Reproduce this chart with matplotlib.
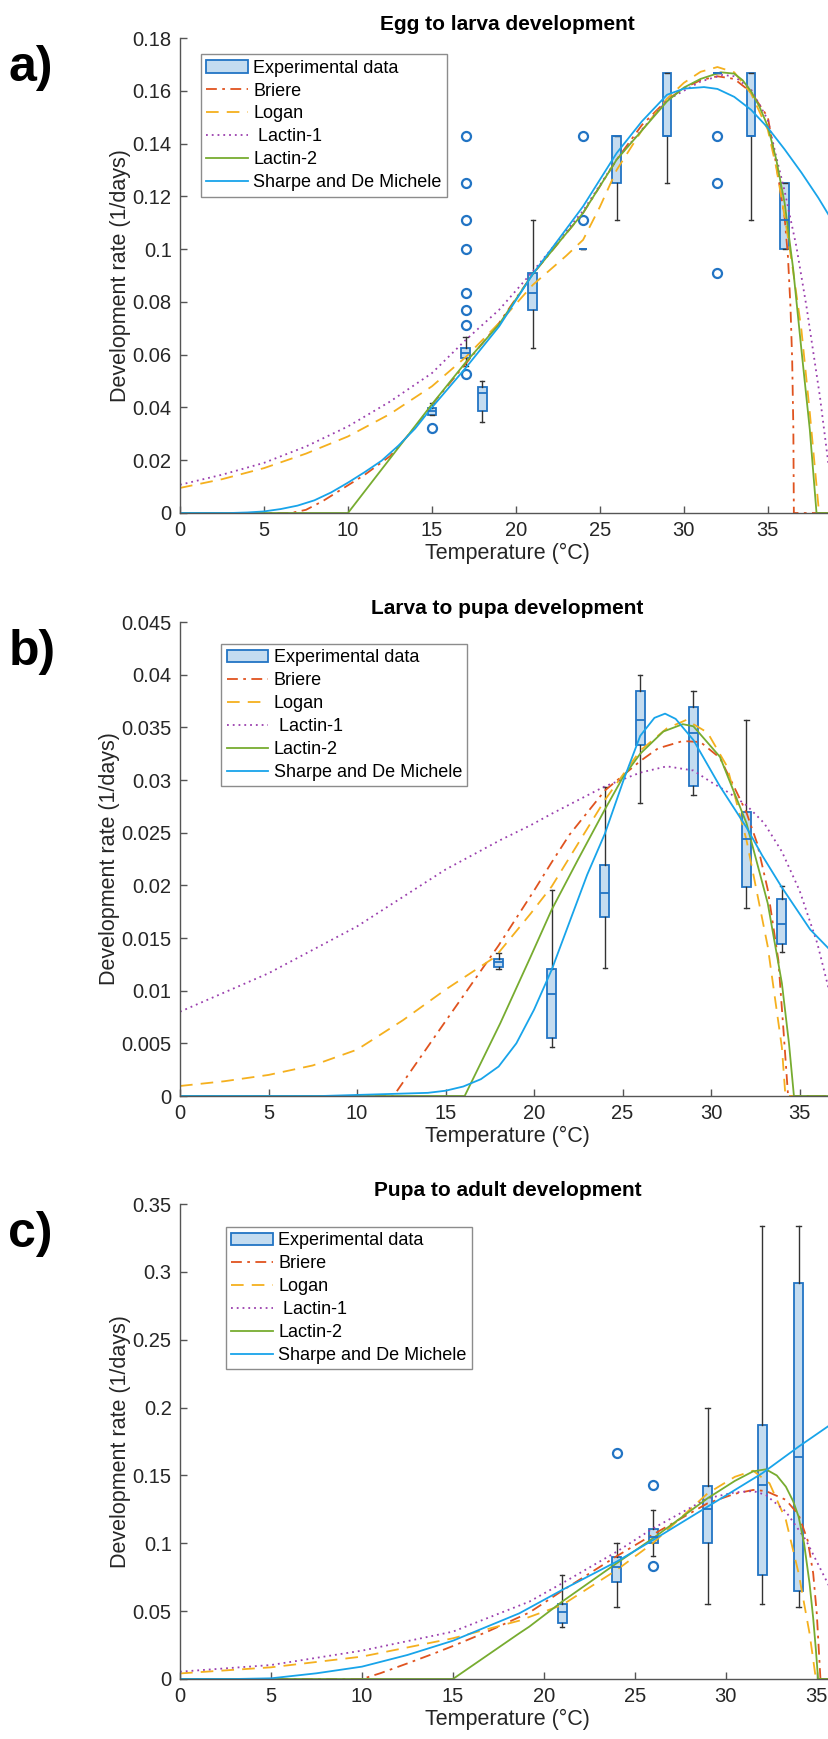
import matplotlib
matplotlib.use("Agg")
import matplotlib.pyplot as plt
from matplotlib.patches import Patch
from matplotlib.ticker import FormatStrFormatter

plt.rcParams['font.family'] = ['Liberation Sans', 'DejaVu Sans']

# ---------------- panel a: egg to larva ----------------
a_temp = [15, 17, 18, 21, 24, 26, 29, 32, 34, 36]
a_whislo = [0.037, 0.0556, 0.0345, 0.0625, 0.1, 0.1111, 0.125, 0.1667, 0.1111, 0.1]
a_q1 = [0.0372, 0.0588, 0.0385, 0.0769, 0.1, 0.125, 0.1429, 0.1667, 0.1429, 0.1]
a_med = [0.0385, 0.0606, 0.0455, 0.0833, 0.1, 0.1429, 0.1429, 0.1667, 0.1429, 0.1111]
a_q3 = [0.0398, 0.0625, 0.0476, 0.0909, 0.1, 0.1429, 0.1667, 0.1667, 0.1667, 0.125]
a_whishi = [0.0417, 0.0667, 0.05, 0.1111, 0.1, 0.1429, 0.1667, 0.1667, 0.1667, 0.125]
a_fliers = [[0.0323], [0.1429, 0.125, 0.1111, 0.1, 0.0833, 0.0769, 0.0714, 0.0526],
            [], [], [0.1429, 0.1111], [], [], [0.1429, 0.125, 0.0909], [], []]

a_briere_t = [0, 6.6, 7.5, 8.5, 10, 11, 12.5, 14, 15, 17, 19, 21, 24, 26, 27.5, 29, 30, 31,
              32, 33, 34, 35, 35.5, 36, 36.2, 36.35, 36.45, 36.52, 36.55, 39]
a_briere_r = [0, 0, 0.0012, 0.0045, 0.0105, 0.0145, 0.0215, 0.0325, 0.041, 0.0565, 0.072,
              0.0905, 0.1137, 0.1339, 0.147, 0.1565, 0.161, 0.164, 0.1655, 0.1645, 0.1595,
              0.15, 0.132, 0.112, 0.097, 0.078, 0.058, 0.032, 0, 0]
a_logan_t = [0, 2.5, 5, 7.5, 10, 12.5, 15, 17, 19, 21, 23, 24, 25, 26, 27.5, 29, 30, 31, 32,
             33, 34, 35, 35.5, 36, 36.5, 37, 37.5, 38.05, 39]
a_logan_r = [0.0095, 0.0128, 0.017, 0.0225, 0.029, 0.0375, 0.048, 0.059, 0.072, 0.0864,
             0.0975, 0.1035, 0.116, 0.130, 0.145, 0.157, 0.163, 0.1672, 0.169, 0.167, 0.159,
             0.1452, 0.131, 0.1124, 0.092, 0.0694, 0.038, 0, 0]
a_lactin1_t = [0, 2.5, 5, 7.5, 10, 12.5, 15, 17, 19, 21, 24, 26, 29, 31, 32.3, 33, 34, 35,
               35.5, 36, 36.7, 37.3, 38.1, 38.6, 39]
a_lactin1_r = [0.0107, 0.0145, 0.019, 0.0252, 0.0328, 0.0422, 0.053, 0.0655, 0.077, 0.0915,
               0.1145, 0.134, 0.1565, 0.1635, 0.166, 0.1655, 0.1605, 0.149, 0.135, 0.122,
               0.101, 0.0783, 0.0442, 0.019, 0.004]
a_lactin2_t = [0, 10, 15, 17, 19, 21, 24, 26, 29, 30, 31, 32.2, 33, 33.5, 34, 34.5, 35,
               35.5, 36, 36.5, 37, 37.5, 37.9, 39]
a_lactin2_r = [0, 0, 0.0412, 0.057, 0.0715, 0.0905, 0.1137, 0.1339, 0.156, 0.1612, 0.1645,
               0.167, 0.1665, 0.164, 0.1598, 0.154, 0.1465, 0.134, 0.1175, 0.093, 0.0619,
               0.0316, 0, 0]
a_sharpe_t = [0, 3, 4, 5, 6, 7, 8, 9, 10, 11, 12, 13, 14, 15, 17, 19, 21, 24, 26, 27.5, 29,
              30, 31.2, 32, 33, 34, 35, 36, 37, 38, 39]
a_sharpe_r = [0, 0, 0.0002, 0.0006, 0.0015, 0.0028, 0.0048, 0.0078, 0.0115, 0.0155, 0.0198,
              0.0255, 0.032, 0.040, 0.0549, 0.0707, 0.0905, 0.1162, 0.1364, 0.1484, 0.1585,
              0.1608, 0.1614, 0.1607, 0.1577, 0.1528, 0.146, 0.1378, 0.129, 0.1195, 0.109]

# ---------------- panel b: larva to pupa ----------------
b_temp = [18, 21, 24, 26, 29, 32, 34]
b_whislo = [0.01203, 0.00462, 0.01218, 0.02779, 0.02858, 0.01788, 0.0137]
b_q1 = [0.01228, 0.00554, 0.01696, 0.03332, 0.02943, 0.01981, 0.01443]
b_med = [0.0127, 0.00965, 0.01924, 0.03573, 0.0345, 0.02437, 0.01636]
b_q3 = [0.013, 0.01203, 0.02193, 0.03845, 0.03696, 0.027, 0.01873]
b_whishi = [0.01355, 0.01956, 0.02937, 0.04, 0.03845, 0.0357, 0.01994]

b_briere_t = [0, 12.06, 15, 18, 20, 21, 22, 24, 26, 27, 28.4, 29.4, 30.5, 31.2, 32, 32.6,
              33.2, 33.8, 34.1, 34.35, 37]
b_briere_r = [0, 0, 0.0071, 0.0143, 0.0195, 0.0222, 0.0248, 0.029, 0.0318, 0.033, 0.0337,
              0.0336, 0.0321, 0.0297, 0.0269, 0.024, 0.0196, 0.0129, 0.006, 0, 0]
b_logan_t = [0, 2.5, 5, 7.5, 10, 12.6, 15, 17.8, 19.8, 21, 22.5, 24, 26, 27.5, 28.6, 29.8,
             30.9, 32, 33.2, 34, 34.2, 37]
b_logan_r = [0.00095, 0.0014, 0.002, 0.0029, 0.0044, 0.0072, 0.0101, 0.0132, 0.0173, 0.0199,
             0.024, 0.0281, 0.0328, 0.0349, 0.0357, 0.0345, 0.0313, 0.0243, 0.0142, 0.0046,
             0, 0]
b_lactin1_t = [0, 5, 10, 15, 18.1, 19.8, 21, 24, 26, 27.5, 29, 30, 31, 32, 33, 34, 35, 36,
               36.7, 37]
b_lactin1_r = [0.008, 0.01165, 0.0161, 0.0215, 0.0243, 0.0257, 0.0268, 0.0294, 0.0307,
               0.0313, 0.0309, 0.0298, 0.0288, 0.0276, 0.0259, 0.0232, 0.0195, 0.0145,
               0.0098, 0.0078]
b_lactin2_t = [0, 16.08, 18.09, 19.8, 21, 22.5, 24, 25, 26, 27.3, 28.4, 29, 30.5, 32, 33.2,
               34, 34.4, 34.68, 37]
b_lactin2_r = [0, 0, 0.0069, 0.0132, 0.0177, 0.0225, 0.0272, 0.0302, 0.0325, 0.0346, 0.0353,
               0.0351, 0.0322, 0.0259, 0.0183, 0.0107, 0.005, 0, 0]
b_sharpe_t = [0, 8, 10, 12, 14, 15, 16, 17, 18, 19, 20, 21, 22, 23, 24, 25.1, 26, 26.8,
              27.4, 28, 29, 30.5, 32, 32.9, 34, 35.6, 36.7, 37]
b_sharpe_r = [0, 0, 0.0001, 0.0002, 0.0003, 0.0005, 0.0009, 0.0016, 0.0028, 0.005, 0.0082,
              0.012, 0.0165, 0.021, 0.0249, 0.0302, 0.0342, 0.0359, 0.0363, 0.0358, 0.0338,
              0.0294, 0.0255, 0.0228, 0.0198, 0.0158, 0.0139, 0.0132]

# ---------------- panel c: pupa to adult ----------------
c_temp = [21, 24, 26, 29, 32, 34]
c_whislo = [0.0385, 0.0528, 0.0909, 0.0553, 0.0553, 0.0528]
c_q1 = [0.0415, 0.0712, 0.1005, 0.1005, 0.0766, 0.0648]
c_med = [0.0496, 0.0828, 0.1049, 0.125, 0.143, 0.1634]
c_q3 = [0.0553, 0.0901, 0.1105, 0.1422, 0.1872, 0.2916]
c_whishi = [0.0766, 0.1, 0.1245, 0.2, 0.3338, 0.3338]
c_fliers = [[], [0.1668], [0.143, 0.0833], [], [], []]

c_briere_t = [0, 10, 11, 12.5, 14, 15, 17, 19.2, 20, 21, 24, 26, 29, 30.5, 31.5, 32.2, 33.3,
              34, 34.5, 34.8, 35.0, 35.2, 36]
c_briere_r = [0, 0, 0.0042, 0.0115, 0.019, 0.0243, 0.0355, 0.049, 0.056, 0.065, 0.0905,
              0.1065, 0.1295, 0.1365, 0.1393, 0.1385, 0.132, 0.121, 0.102, 0.078, 0.048, 0, 0]
c_logan_t = [0, 5, 10, 15, 18.65, 21, 24, 26, 29, 30.5, 31.5, 32.4, 33.3, 34, 34.6, 34.95, 36]
c_logan_r = [0.0041, 0.0086, 0.0165, 0.030, 0.043, 0.0545, 0.0803, 0.1002, 0.1368, 0.149,
             0.1535, 0.1442, 0.1172, 0.0779, 0.0337, 0, 0]
c_lactin1_t = [0, 5, 10, 15, 19.2, 21, 24, 26, 29, 30.5, 31.5, 32.2, 33.3, 34.4, 35.6, 36]
c_lactin1_r = [0.0054, 0.0103, 0.0209, 0.0349, 0.057, 0.0705, 0.0938, 0.111, 0.1332, 0.1375,
               0.1385, 0.1356, 0.1233, 0.1024, 0.0705, 0.06]
c_lactin2_t = [0, 15, 18.65, 19.2, 21, 24, 26, 29, 30.5, 31.5, 32.2, 32.8, 33.3, 33.7, 34,
               34.3, 34.6, 34.8, 34.95, 35.07, 36]
c_lactin2_r = [0, 0, 0.0337, 0.0386, 0.057, 0.0853, 0.1037, 0.1332, 0.146, 0.153, 0.1545,
               0.150, 0.1417, 0.131, 0.1196, 0.100, 0.0705, 0.045, 0.0214, 0, 0]
c_sharpe_t = [0, 3, 5, 7.5, 10, 12.5, 15, 18.65, 21, 24, 26, 29, 32, 34, 36]
c_sharpe_r = [0, 0, 0.0005, 0.0042, 0.0091, 0.0177, 0.0282, 0.0484, 0.0656, 0.0865, 0.1024,
              0.127, 0.1516, 0.1712, 0.1897]

legend_names = ['Experimental data', 'Briere', 'Logan', ' Lactin-1', 'Lactin-2',
                'Sharpe and De Michele']

box_edge = '#2274C4'
box_face = '#C4DCF0'
c_briere = '#E0531F'
c_logan = '#F5B01E'
c_lactin1 = '#9B3FAE'
c_lactin2 = '#77AC30'
c_sharpe = '#18A4EA'
axis_col = '#555555'


def make_stats(whislo, q1, med, q3, whishi, fliers):
    stats = []
    for i in range(len(q1)):
        stats.append({'whislo': whislo[i], 'q1': q1[i], 'med': med[i], 'q3': q3[i],
                      'whishi': whishi[i], 'fliers': fliers[i]})
    return stats


def draw_panel(ax, temps, stats, curves, xmax, ymax, ystep, title, tag, leg_xy):
    ax.bxp(stats, positions=temps, widths=0.5, patch_artist=True, manage_ticks=False,
           capwidths=0.25,
           boxprops=dict(facecolor=box_face, edgecolor=box_edge, linewidth=1.3),
           medianprops=dict(color=box_edge, linewidth=1.3),
           whiskerprops=dict(color='#333333', linewidth=1.0),
           capprops=dict(color='#333333', linewidth=1.0),
           flierprops=dict(marker='o', markerfacecolor='none', markeredgecolor=box_edge,
                           markersize=6.5, markeredgewidth=1.6))
    styles = [(c_briere, (0, (6, 3, 1.5, 3))), (c_logan, (0, (7, 4.5))),
              (c_lactin1, (0, (1, 2.2))), (c_lactin2, '-'), (c_sharpe, '-')]
    handles = [Patch(facecolor=box_face, edgecolor=box_edge, linewidth=1.3)]
    for (t, r), (col, ls) in zip(curves, styles):
        ln, = ax.plot(t, r, color=col, linestyle=ls, linewidth=1.3)
        handles.append(ln)

    ax.set_xlim(0, xmax)
    ax.set_ylim(0, ymax)
    ax.set_xticks(range(0, 36, 5))
    nt = int(round(ymax / ystep))
    ax.set_yticks([ystep * k for k in range(nt + 1)])
    ax.yaxis.set_major_formatter(FormatStrFormatter('%g'))
    for s in ['top', 'right']:
        ax.spines[s].set_visible(False)
    for s in ['left', 'bottom']:
        ax.spines[s].set_color(axis_col)
        ax.spines[s].set_linewidth(1.0)
    ax.tick_params(direction='in', length=5, width=1.0, color=axis_col,
                   labelsize=14.5, labelcolor='#262626', pad=6)
    ax.set_xlabel('Temperature (°C)', fontsize=15.5, color='#262626', labelpad=2)
    ax.set_ylabel('Development rate (1/days)', fontsize=15.5, color='#262626', labelpad=1)
    ax.set_title(title, fontsize=15, fontweight='bold', pad=6)
    leg = ax.legend(handles, legend_names, loc='upper left', bbox_to_anchor=leg_xy,
                    fontsize=13, frameon=True, fancybox=False, framealpha=1,
                    edgecolor='#8C8C8C', handlelength=2.3, handletextpad=0.3,
                    labelspacing=0.33, borderpad=0.3, borderaxespad=0)
    leg.get_frame().set_linewidth(1.0)
    ax.figure.text(0.010, ax.get_position().y1 - 0.004, tag, fontsize=36,
                   fontweight='bold', va='top', ha='left')


fig = plt.figure(figsize=(8.29, 17.39), dpi=100)
W, H = 829.0, 1739.0
ax_a = fig.add_axes([180 / W, (H - 513) / H, 655 / W, 475 / H])
ax_b = fig.add_axes([180 / W, (H - 1096) / H, 655 / W, 474 / H])
ax_c = fig.add_axes([180 / W, (H - 1679) / H, 655 / W, 475 / H])

draw_panel(ax_a, a_temp, make_stats(a_whislo, a_q1, a_med, a_q3, a_whishi, a_fliers),
           [(a_briere_t, a_briere_r), (a_logan_t, a_logan_r), (a_lactin1_t, a_lactin1_r),
            (a_lactin2_t, a_lactin2_r), (a_sharpe_t, a_sharpe_r)],
           39, 0.18, 0.02, 'Egg to larva development', 'a)', (0.032, 0.966))

draw_panel(ax_b, b_temp, make_stats(b_whislo, b_q1, b_med, b_q3, b_whishi,
                                    [[] for _ in b_temp]),
           [(b_briere_t, b_briere_r), (b_logan_t, b_logan_r), (b_lactin1_t, b_lactin1_r),
            (b_lactin2_t, b_lactin2_r), (b_sharpe_t, b_sharpe_r)],
           37, 0.045, 0.005, 'Larva to pupa development', 'b)', (0.063, 0.954))

draw_panel(ax_c, c_temp, make_stats(c_whislo, c_q1, c_med, c_q3, c_whishi, c_fliers),
           [(c_briere_t, c_briere_r), (c_logan_t, c_logan_r), (c_lactin1_t, c_lactin1_r),
            (c_lactin2_t, c_lactin2_r), (c_sharpe_t, c_sharpe_r)],
           36, 0.35, 0.05, 'Pupa to adult development', 'c)', (0.070, 0.952))

fig.savefig('out.png', dpi=100)
